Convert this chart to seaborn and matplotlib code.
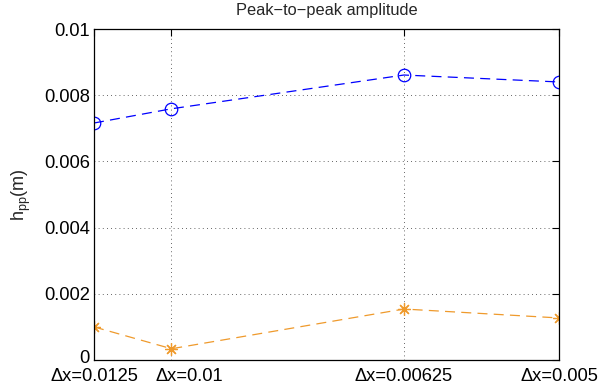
import numpy as np
import pandas as pd
import matplotlib
matplotlib.use("Agg")
import matplotlib.pyplot as plt
from matplotlib.transforms import ScaledTranslation
import seaborn as sns

# Grid resolution: plotted against number of cells (1/dx), labelled by dx
dx_labels = ["\u0394x=0.0125", "\u0394x=0.01", "\u0394x=0.00625", "\u0394x=0.005"]
n_cells = [80, 100, 160, 200]
h_pp_blue = [0.00716, 0.00759, 0.00861, 0.00840]
h_pp_orange = [0.00100, 0.00034, 0.00154, 0.00127]
y_ticks = [0, 0.002, 0.004, 0.006, 0.008, 0.01]
y_tick_labels = ["0", "0.002", "0.004", "0.006", "0.008", "0.01"]

sns.set_style("white")
plt.rcParams["font.family"] = ["Liberation Sans", "DejaVu Sans"]
plt.rcParams["mathtext.fontset"] = "custom"
plt.rcParams["mathtext.rm"] = "Liberation Sans"

df = pd.DataFrame({"n": n_cells, "blue": h_pp_blue, "orange": h_pp_orange})

fig = plt.figure(figsize=(6.01, 3.91), dpi=100)
ax = fig.add_axes([0.1564, 0.0793, 0.9301 - 0.1564, 0.9258 - 0.0793])

sns.lineplot(data=df, x="n", y="blue", ax=ax, color="#0000ff", linestyle=(0, (8, 5)),
             linewidth=0.9, marker="o", markersize=9, markerfacecolor="none",
             markeredgecolor="#0000ff", markeredgewidth=0.9)
sns.lineplot(data=df, x="n", y="orange", ax=ax, color="#ef9a2c", linestyle=(0, (8, 5)),
             linewidth=0.9, marker=(8, 2, 0), markersize=9,
             markeredgecolor="#ef9a2c", markeredgewidth=0.9)

ax.set_xlim(80, 200)
ax.set_ylim(0, 0.01)
ax.set_xticks(n_cells)
ax.set_xticklabels(dx_labels)
ax.set_yticks(y_ticks)
ax.set_yticklabels(y_tick_labels)
ax.tick_params(direction="in", length=5, width=0.8, labelsize=13.2, colors="black",
               top=True, right=True, pad=3)
ax.tick_params(axis="x", pad=6)
ax.grid(True, linestyle=(0, (1, 4)), color="#333333", linewidth=0.6)
for s in ax.spines.values():
    s.set_color("black")
    s.set_linewidth(0.9)

# the second x label sits a bit right of its tick, and "0" a bit above its tick
lab = ax.get_xticklabels()[1]
lab.set_transform(lab.get_transform() + ScaledTranslation(0.18, 0, fig.dpi_scale_trans))
zero = ax.get_yticklabels()[0]
zero.set_transform(zero.get_transform() + ScaledTranslation(0, 0.03, fig.dpi_scale_trans))

ax.set_xlabel("")
ax.set_ylabel(r"h$_{\mathrm{pp}}$(m)", fontsize=13, labelpad=8)
ax.set_title("Peak\u2212to\u2212peak amplitude", fontsize=11.8, pad=10)

fig.savefig("out.png", dpi=100)
